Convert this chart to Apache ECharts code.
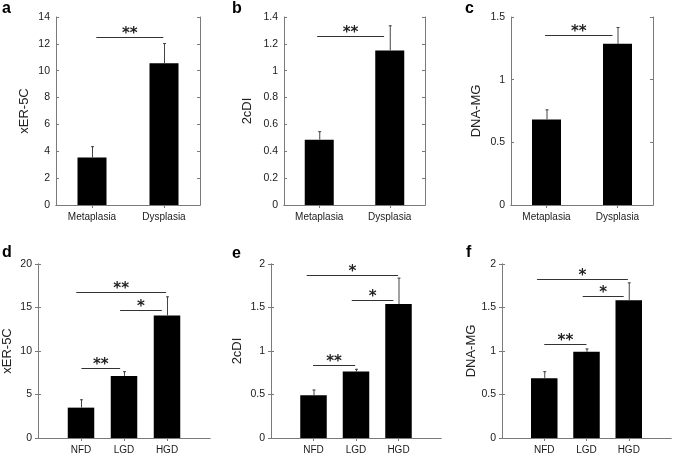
<!DOCTYPE html>
<html><head><meta charset="utf-8">
<script src="https://cdn.jsdelivr.net/npm/echarts@6/dist/echarts.min.js"></script>
<style>html,body{margin:0;padding:0;background:#fff}#c{width:673px;height:455px}</style>
</head><body><div id="c"></div>
<script>
// ---- data ----
const catsTop = ['Metaplasia', 'Dysplasia'];
const catsBottom = ['NFD', 'LGD', 'HGD'];
const panelLetters = ['a', 'b', 'c', 'd', 'e', 'f'];
const yNames = ['xER-5C', '2cDI', 'DNA-MG', 'xER-5C', '2cDI', 'DNA-MG'];
const yMax = [14, 1.4, 1.5, 20, 2, 2];
const yInterval = [2, 0.2, 0.5, 5, 0.5, 0.5];

const meanA = [3.54, 10.56];   const sdA = [0.84, 1.50];
const meanB = [0.486, 1.151];  const sdB = [0.064, 0.187];
const meanC = [0.683, 1.286];  const sdC = [0.080, 0.134];
const meanD = [3.49, 7.14, 14.09]; const sdD = [0.96, 0.54, 2.19];
const meanE = [0.491, 0.764, 1.539]; const sdE = [0.066, 0.031, 0.304];
const meanF = [0.687, 0.990, 1.582]; const sdF = [0.081, 0.039, 0.207];

// significance brackets: [from x, to x, y]
const sigA = [[1.06, 1.99, 12.5]];           const sigTextA = ['**'];
const sigB = [[0.97, 1.92, 1.256]];          const sigTextB = ['**'];
const sigC = [[0.98, 1.93, 1.358]];          const sigTextC = ['**'];
const sigD = [[1.01, 1.91, 8.1], [1.91, 2.88, 14.66], [0.89, 2.98, 16.78]];
const sigTextD = ['**', '*', '**'];
const sigE = [[0.99, 1.98, 0.841], [1.90, 2.88, 1.589], [0.84, 2.99, 1.87]];
const sigTextE = ['**', '*', '*'];
const sigF = [[1.00, 2.00, 1.083], [1.91, 2.88, 1.631], [0.83, 2.98, 1.823]];
const sigTextF = ['**', '*', '*'];

// ---- layout ----
const grids = [
  {left: 56, top: 17, width: 144, height: 188},
  {left: 284, top: 17, width: 141, height: 188},
  {left: 511, top: 17, width: 142, height: 188},
  {left: 38, top: 264, width: 172, height: 174},
  {left: 271, top: 264, width: 170, height: 174},
  {left: 502, top: 264, width: 169, height: 174}
];
const nameGaps = [25, 30, 28, 24, 27, 18];
const letterPos = [[2, 1], [232, 1], [465, 1], [2, 245], [232, 246], [466, 245]];

const means = [meanA, meanB, meanC, meanD, meanE, meanF];
const sds = [sdA, sdB, sdC, sdD, sdE, sdF];
const sigs = [sigA, sigB, sigC, sigD, sigE, sigF];
const sigTexts = [sigTextA, sigTextB, sigTextC, sigTextD, sigTextE, sigTextF];

const FONT = 'Liberation Sans, Arial, sans-serif';
const BOX = '#7a7a7a';

const option = {
  animation: false,
  backgroundColor: '#fff',
  grid: grids.map(g => Object.assign({containLabel: false}, g)),
  xAxis: [], yAxis: [], series: [],
  graphic: panelLetters.map((l, i) => ({
    type: 'text', left: letterPos[i][0], top: letterPos[i][1],
    style: {text: l, font: 'bold 16px ' + FONT, fill: '#000'}
  }))
};

for (let i = 0; i < 6; i++) {
  const top = i < 3;
  const cats = top ? catsTop : catsBottom;
  const xmin = top ? 0.5 : 0, xmax = top ? 2.5 : 4;
  const pos = cats.map((c, k) => k + 1);
  const common = {
    type: 'value', gridIndex: i, min: xmin, max: xmax,
    splitLine: {show: false},
    axisLine: {show: true, lineStyle: {color: BOX, width: 1}},
    axisTick: {show: true, inside: true, length: 3, customValues: pos, lineStyle: {color: BOX}}
  };
  option.xAxis.push(Object.assign({}, common, {
    position: 'bottom',
    axisLabel: {show: true, customValues: pos, margin: 7, fontSize: 10, fontFamily: FONT, color: '#1a1a1a',
      formatter: v => cats[Math.round(v) - 1] || ''}
  }));
  option.xAxis.push(Object.assign({}, common, {
    position: 'top', axisLabel: {show: false}
  }));
  const ycommon = {
    type: 'value', gridIndex: i, min: 0, max: yMax[i], interval: yInterval[i],
    splitLine: {show: false},
    axisLine: {show: true, lineStyle: {color: BOX, width: 1}},
    axisTick: {show: true, inside: true, length: 3, lineStyle: {color: BOX}}
  };
  option.yAxis.push(Object.assign({}, ycommon, {
    position: 'left',
    name: yNames[i], nameLocation: 'middle', nameGap: nameGaps[i],
    nameTextStyle: {fontSize: 13, fontFamily: FONT, color: '#222'},
    axisLabel: {show: true, margin: 6, fontSize: 10.5, fontFamily: FONT, color: '#1a1a1a'}
  }));
  option.yAxis.push(Object.assign({}, ycommon, {
    position: 'right', axisLabel: {show: false}
  }));
  const xi = i * 2, yi = i * 2;
  option.series.push({
    type: 'bar', xAxisIndex: xi, yAxisIndex: yi,
    barWidth: top ? 29 : 26.5,
    itemStyle: {color: '#000'},
    data: means[i].map((v, k) => [k + 1, v]),
    z: 2
  });
  option.series.push({
    type: 'custom', xAxisIndex: xi, yAxisIndex: yi,
    encode: {x: 0, y: 1},
    data: means[i].map((v, k) => [k + 1, v, v + sds[i][k]]),
    renderItem: (params, api) => {
      const x = api.value(0);
      const p0 = api.coord([x, api.value(1)]);
      const p1 = api.coord([x, api.value(2)]);
      const st = {stroke: '#444', lineWidth: 1};
      return {type: 'group', children: [
        {type: 'line', shape: {x1: p0[0] + 0.5, y1: p0[1], x2: p1[0] + 0.5, y2: p1[1]}, style: st},
        {type: 'line', shape: {x1: p1[0] - 1, y1: p1[1] + 0.5, x2: p1[0] + 2, y2: p1[1] + 0.5}, style: st}
      ]};
    },
    z: 3
  });
  const texts = sigTexts[i];
  option.series.push({
    type: 'custom', xAxisIndex: xi, yAxisIndex: yi,
    encode: {x: [0, 1], y: 2},
    data: sigs[i],
    renderItem: (params, api) => {
      const a = api.coord([api.value(0), api.value(2)]);
      const b = api.coord([api.value(1), api.value(2)]);
      const y = Math.round(a[1]) + 0.5;
      return {type: 'group', children: [
        {type: 'line', shape: {x1: a[0], y1: y, x2: b[0], y2: y}, style: {stroke: '#333', lineWidth: 1}},
        {type: 'text', style: {text: texts[params.dataIndex], x: (a[0] + b[0]) / 2, y: y - 3,
          align: 'center', verticalAlign: 'middle', font: 'bold 15px DejaVu Sans', fill: '#222'}}
      ]};
    },
    z: 4
  });
}

const chart = echarts.init(document.getElementById('c'), null, {renderer: 'canvas'});
chart.setOption(option);
</script>
</body></html>
